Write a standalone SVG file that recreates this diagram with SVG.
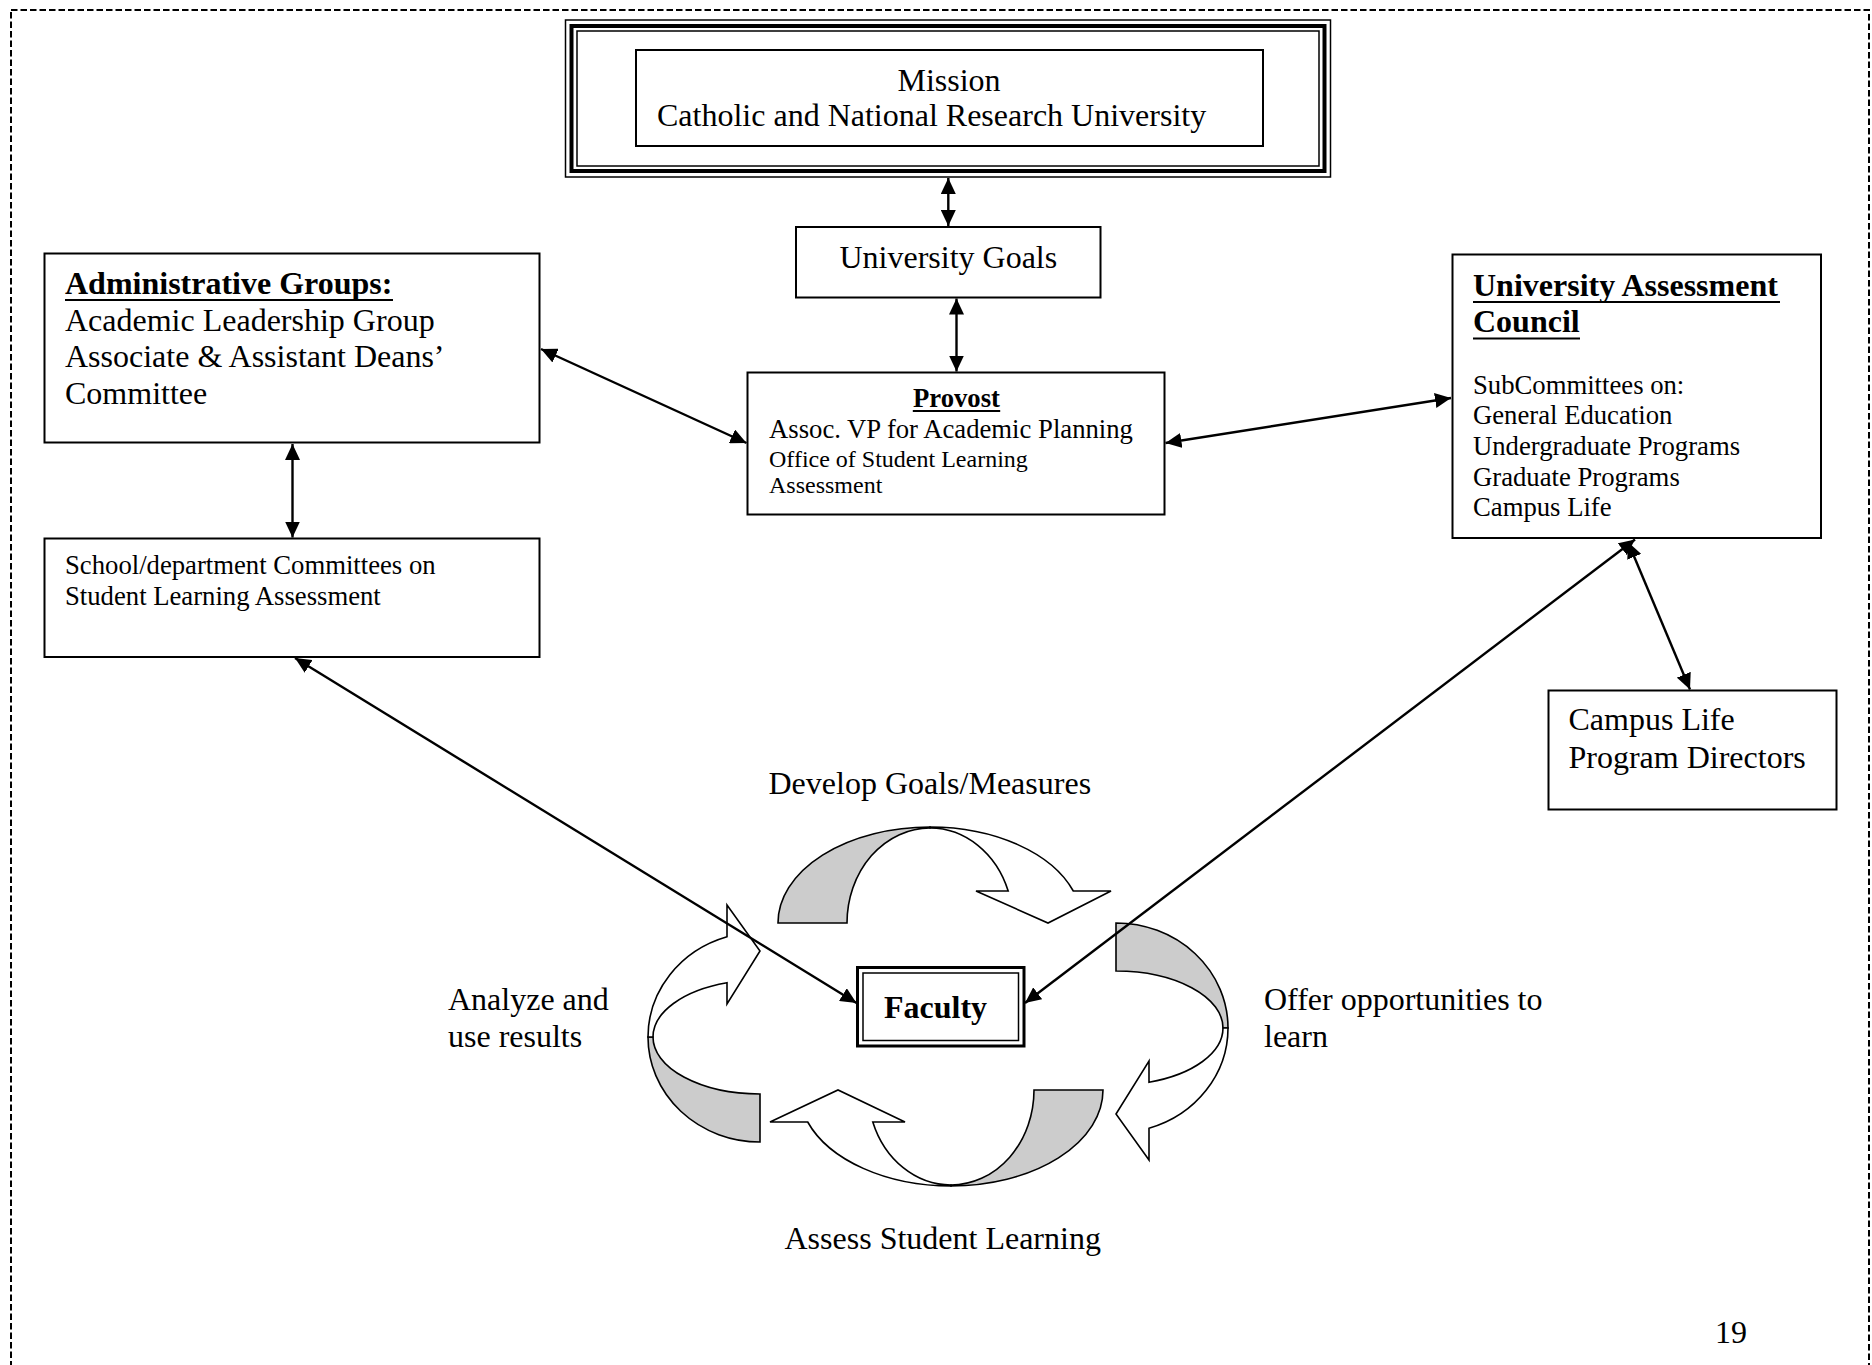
<svg xmlns="http://www.w3.org/2000/svg" width="1872" height="1365" viewBox="0 0 1872 1365">
<style>
text{font-family:'Liberation Serif','Times New Roman',serif;fill:#000}
.t32{font-size:32px}
.t27{font-size:26.7px}
.t24{font-size:24px}
.b{font-weight:bold}
.box{fill:#fff;stroke:#000;stroke-width:2}
.ul{stroke:#000;stroke-width:2}
.con{stroke:#000;stroke-width:2.4;fill:none;marker-start:url(#ah);marker-end:url(#ah)}
.grey{fill:#cccccc;stroke:#000;stroke-width:1.6;stroke-linejoin:miter}
.white{fill:#fff;stroke:#000;stroke-width:1.6;stroke-linejoin:miter}
</style>
<defs>
<marker id="ah" viewBox="0 0 16 15" refX="16" refY="7.5" markerWidth="16" markerHeight="15" markerUnits="userSpaceOnUse" orient="auto-start-reverse">
<path d="M0,0 L16,7.5 L0,15 z" fill="#000"/>
</marker>
</defs>
<rect width="1872" height="1365" fill="#fff"/>
<rect x="11" y="10" width="1858" height="1400" fill="none" stroke="#000" stroke-width="2" stroke-dasharray="6.5 3"/>

<g id="cycle">
<g id="cyc-top" transform="translate(930,923)">
<path class="grey" d="M-152,0 A152,96 0 0 1 0,-96 L0,-95 A83,95 0 0 0 -83,0 Z"/>
<path class="white" d="M0,-96 A152,96 0 0 1 143.3,-32 L181,-32 L118,0 L46,-32 L78.2,-32 A83,95 0 0 0 0,-95 Z"/>
</g>
<g id="cyc-bottom" transform="translate(951,1090) rotate(180)">
<path class="grey" d="M-152,0 A152,96 0 0 1 0,-96 L0,-95 A83,95 0 0 0 -83,0 Z"/>
<path class="white" d="M0,-96 A152,96 0 0 1 143.3,-32 L181,-32 L113,0 L46,-32 L78.2,-32 A83,95 0 0 0 0,-95 Z"/>
</g>
<g id="cyc-right" transform="translate(1116,1028) rotate(90)">
<path class="grey" d="M-105,0 A105,112 0 0 1 0,-112 L0,-107 A57,107 0 0 0 -57,0 Z"/>
<path class="white" d="M0,-112 A105,112 0 0 1 100.3,-33 L132,-33 L86,0 L33,-33 L54.2,-33 A57,107 0 0 0 0,-107 Z"/>
</g>
<g id="cyc-left" transform="translate(760,1037) rotate(-90)">
<path class="grey" d="M-105,0 A105,112 0 0 1 0,-112 L0,-107 A57,107 0 0 0 -57,0 Z"/>
<path class="white" d="M0,-112 A105,112 0 0 1 100.3,-33 L132,-33 L86,0 L33,-33 L54.2,-33 A57,107 0 0 0 0,-107 Z"/>
</g>
</g>

<g id="mission">
<rect x="565.5" y="20" width="765" height="157" fill="#fff" stroke="#000" stroke-width="1.5"/>
<rect x="571.5" y="26" width="753" height="145" fill="none" stroke="#000" stroke-width="4"/>
<rect x="577" y="31" width="742" height="135" fill="none" stroke="#000" stroke-width="1.5"/>
<rect class="box" x="636" y="50" width="627" height="96"/>
<text class="t32" x="949" y="90.5" text-anchor="middle">Mission</text>
<text class="t32" x="657" y="126">Catholic and National Research University</text>
</g>

<g id="goals">
<rect class="box" x="796" y="227" width="304.5" height="70.5"/>
<text class="t32" x="948.3" y="268" text-anchor="middle">University Goals</text>
</g>

<g id="provost">
<rect class="box" x="747.5" y="372.5" width="417" height="142"/>
<text class="t27 b" x="956.5" y="407" text-anchor="middle">Provost</text>
<line class="ul" x1="912.8" y1="411" x2="1000.2" y2="411"/>
<text class="t27" x="769" y="437.5">Assoc. VP for Academic Planning</text>
<text class="t24" x="769" y="466.5">Office of Student Learning</text>
<text class="t24" x="769" y="493">Assessment</text>
</g>

<g id="admin">
<rect class="box" x="44.5" y="253.5" width="495" height="189"/>
<text class="t32 b" x="65" y="293.5">Administrative Groups:</text>
<line class="ul" x1="65" y1="300" x2="393" y2="300"/>
<text class="t32" x="65" y="330.5">Academic Leadership Group</text>
<text class="t32" x="65" y="367">Associate &amp; Assistant Deans’</text>
<text class="t32" x="65" y="403.5">Committee</text>
</g>

<g id="school">
<rect class="box" x="44.5" y="538.5" width="495" height="118.5"/>
<text class="t27" x="65" y="573.5">School/department Committees on</text>
<text class="t27" x="65" y="604.5">Student Learning Assessment</text>
</g>

<g id="uac">
<rect class="box" x="1452.5" y="254.5" width="368.5" height="283.5"/>
<text class="t32 b" x="1473" y="295.5">University Assessment</text>
<line class="ul" x1="1473" y1="302" x2="1780" y2="302"/>
<text class="t32 b" x="1473" y="332">Council</text>
<line class="ul" x1="1473" y1="338.5" x2="1580" y2="338.5"/>
<text class="t27" x="1473" y="393.5">SubCommittees on:</text>
<text class="t27" x="1473" y="424">General Education</text>
<text class="t27" x="1473" y="454.5">Undergraduate Programs</text>
<text class="t27" x="1473" y="485.5">Graduate Programs</text>
<text class="t27" x="1473" y="516">Campus Life</text>
</g>

<g id="campus-life">
<rect class="box" x="1548.5" y="690.5" width="288" height="119"/>
<text class="t32" x="1568.5" y="730">Campus Life</text>
<text class="t32" x="1568.5" y="767.5">Program Directors</text>
</g>

<g id="faculty">
<rect x="857.5" y="967.5" width="166.5" height="78.5" fill="#fff" stroke="#000" stroke-width="3"/>
<rect x="863" y="973" width="155.5" height="67.5" fill="none" stroke="#000" stroke-width="1.5"/>
<text class="t32 b" x="935.5" y="1017.5" text-anchor="middle">Faculty</text>
</g>

<g id="labels">
<text class="t32" x="768.5" y="793.5">Develop Goals/Measures</text>
<text class="t32" x="448" y="1010">Analyze and</text>
<text class="t32" x="448" y="1046.5">use results</text>
<text class="t32" x="1264" y="1010">Offer opportunities to</text>
<text class="t32" x="1264" y="1046.5">learn</text>
<text class="t32" x="784.5" y="1249">Assess Student Learning</text>
<text class="t32" x="1715" y="1342.5">19</text>
</g>

<g id="connectors">
<line class="con" x1="948.3" y1="178" x2="948.3" y2="226"/>
<line class="con" x1="956.5" y1="298.5" x2="956.5" y2="371.5"/>
<line class="con" x1="541" y1="349" x2="746.5" y2="443"/>
<line class="con" x1="1165.5" y1="443" x2="1451" y2="398"/>
<line class="con" x1="292.5" y1="444" x2="292.5" y2="537.5"/>
<line class="con" x1="295" y1="658" x2="856.5" y2="1003"/>
<line class="con" x1="1635" y1="539.5" x2="1025" y2="1003"/>
<line class="con" x1="1628" y1="542" x2="1690" y2="689.5"/>
</g>
</svg>
